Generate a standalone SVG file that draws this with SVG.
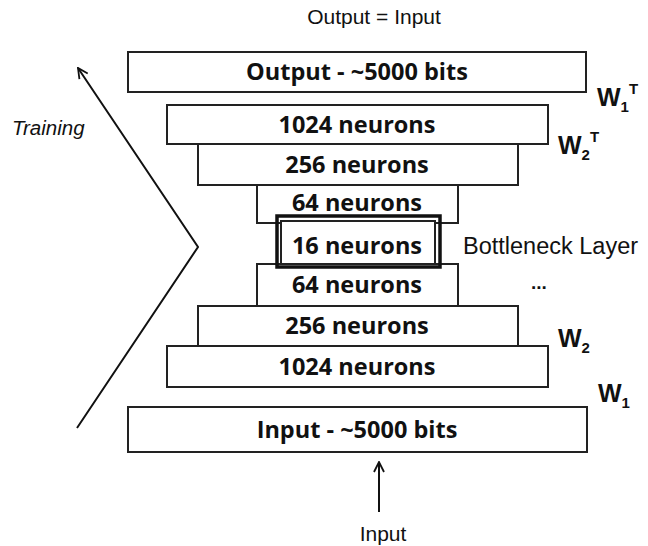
<svg xmlns="http://www.w3.org/2000/svg" width="648" height="546" viewBox="0 0 648 546">
<style>
.box{fill:#fff;stroke:#222;stroke-width:2}
.hl{fill:none;stroke:#111;stroke-width:3.5}
.lbl{font-family:"Open Sans","Liberation Sans",sans-serif;font-weight:700;font-size:23.5px;fill:#111;text-anchor:middle}
.txt{font-family:"Liberation Sans",Arial,sans-serif;font-size:21px;fill:#111}
.w{font-family:"Liberation Sans",Arial,sans-serif;font-weight:700;font-size:25px;fill:#111}
.sub{font-size:15px}
.ln{fill:none;stroke:#111;stroke-width:2}
</style>
<defs>
<marker id="ah" viewBox="0 0 12 12" refX="11" refY="6" markerWidth="12" markerHeight="12" markerUnits="userSpaceOnUse" orient="auto">
<path d="M1,1 L11,6 L1,11" fill="none" stroke="#111" stroke-width="1.8"/>
</marker>
</defs>
<text class="txt" x="374" y="24" text-anchor="middle">Output = Input</text>
<g id="output"><rect class="box" x="128" y="52" width="458" height="40"/><text class="lbl" x="357" y="80">Output - ~5000 bits</text></g>
<g id="top1024"><rect class="box" x="167" y="105" width="381" height="39"/><text class="lbl" x="357" y="133">1024 neurons</text></g>
<g id="top256"><rect class="box" x="198" y="144" width="320" height="41"/><text class="lbl" x="357" y="173">256 neurons</text></g>
<g id="top64"><rect class="box" x="257" y="185" width="201" height="38"/><text class="lbl" x="357" y="211">64 neurons</text></g>
<g id="bot64"><rect class="box" x="257" y="264" width="201" height="42"/><text class="lbl" x="357" y="293">64 neurons</text></g>
<g id="bottleneck"><rect class="box" x="281" y="221" width="154" height="43"/><rect class="hl" x="277" y="216" width="163" height="51"/><text class="lbl" x="357" y="254">16 neurons</text></g>
<g id="bot256"><rect class="box" x="198" y="306" width="320" height="40"/><text class="lbl" x="357" y="334">256 neurons</text></g>
<g id="bot1024"><rect class="box" x="167" y="346" width="381" height="41"/><text class="lbl" x="357" y="375">1024 neurons</text></g>
<g id="input"><rect class="box" x="128" y="407" width="459" height="45"/><text class="lbl" x="357" y="438">Input - ~5000 bits</text></g>
<text class="txt" x="463" y="254" style="font-size:23.5px">Bottleneck Layer</text>
<text class="w" x="531" y="289" style="font-size:19px">...</text>
<text class="w" x="597" y="106">W<tspan class="sub" dy="6">1</tspan><tspan class="sub" dy="-18">T</tspan></text>
<text class="w" x="558" y="154">W<tspan class="sub" dy="6">2</tspan><tspan class="sub" dy="-18">T</tspan></text>
<text class="w" x="558" y="347">W<tspan class="sub" dy="6">2</tspan></text>
<text class="w" x="598" y="402">W<tspan class="sub" dy="6">1</tspan></text>
<text class="txt" x="12" y="135" style="font-size:20.5px;font-style:italic">Training</text>
<g id="connectors">
<polyline class="ln" points="77,428 198,247 78,68" marker-end="url(#ah)"/>
<line class="ln" x1="379" y1="512" x2="379" y2="462" marker-end="url(#ah)"/>
</g>
<text class="txt" x="383" y="541" text-anchor="middle">Input</text>
</svg>
